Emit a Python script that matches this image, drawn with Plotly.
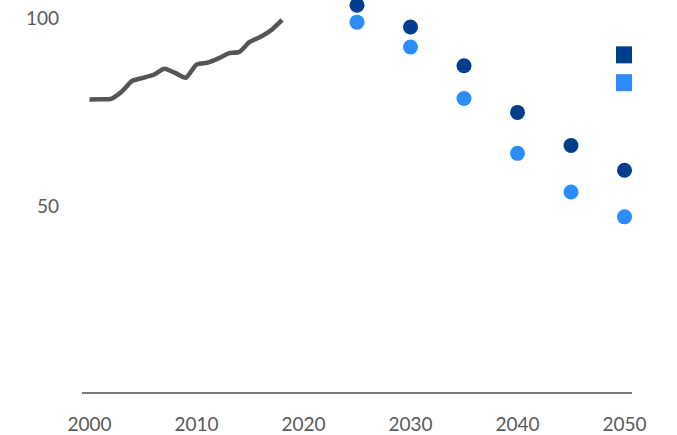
import plotly.graph_objects as go

hist_years = list(range(2000, 2019))
hist_values = [78.3, 78.4, 78.5, 80.4, 83.3, 84.1, 84.9, 86.5, 85.4, 84.1,
               87.6, 88.1, 89.2, 90.6, 91.0, 93.7, 95.0, 96.8, 99.5]

proj_years = [2025, 2030, 2035, 2040, 2045, 2050]
proj_dark = [103.4, 97.6, 87.3, 74.9, 66.1, 59.5]
proj_light = [98.9, 92.3, 78.6, 64.0, 53.7, 47.1]

square_year = [2050]
square_dark = [90.2]
square_light = [82.8]

x_ticks = [2000, 2010, 2020, 2030, 2040, 2050]
y_ticks = [50, 100]

DARK = "#003d8f"
LIGHT = "#2b8cff"
GREY = "#555555"

fig = go.Figure()
fig.add_trace(go.Scatter(x=hist_years, y=hist_values, mode="lines",
                         line=dict(color=GREY, width=4.5, shape="spline", smoothing=0.6),
                         showlegend=False))
fig.add_trace(go.Scatter(x=proj_years, y=proj_light, mode="markers",
                         marker=dict(color=LIGHT, size=15), showlegend=False))
fig.add_trace(go.Scatter(x=proj_years, y=proj_dark, mode="markers",
                         marker=dict(color=DARK, size=15), showlegend=False,
                         cliponaxis=True))
fig.add_trace(go.Scatter(x=square_year, y=square_dark, mode="markers",
                         marker=dict(color=DARK, size=17, symbol="square"), showlegend=False))
fig.add_trace(go.Scatter(x=square_year, y=square_light, mode="markers",
                         marker=dict(color=LIGHT, size=17, symbol="square"), showlegend=False))

fig.update_layout(
    width=677, height=435,
    margin=dict(l=82, r=45, t=0, b=41),
    plot_bgcolor="white", paper_bgcolor="white",
    font=dict(family="Lato, sans-serif", size=19, color="#5a5a5a"),
)
fig.update_xaxes(range=[1999.3, 2050.7], tickvals=x_ticks, showgrid=False,
                 zeroline=False, showline=True, linecolor="#7a7a7a", linewidth=2,
                 ticks="", ticklabelstandoff=14)
fig.update_yaxes(range=[0.5, 104.8], tickvals=y_ticks, showgrid=False,
                 zeroline=False, showline=False, ticks="", ticklabelstandoff=22)

fig.write_html("out.html")
